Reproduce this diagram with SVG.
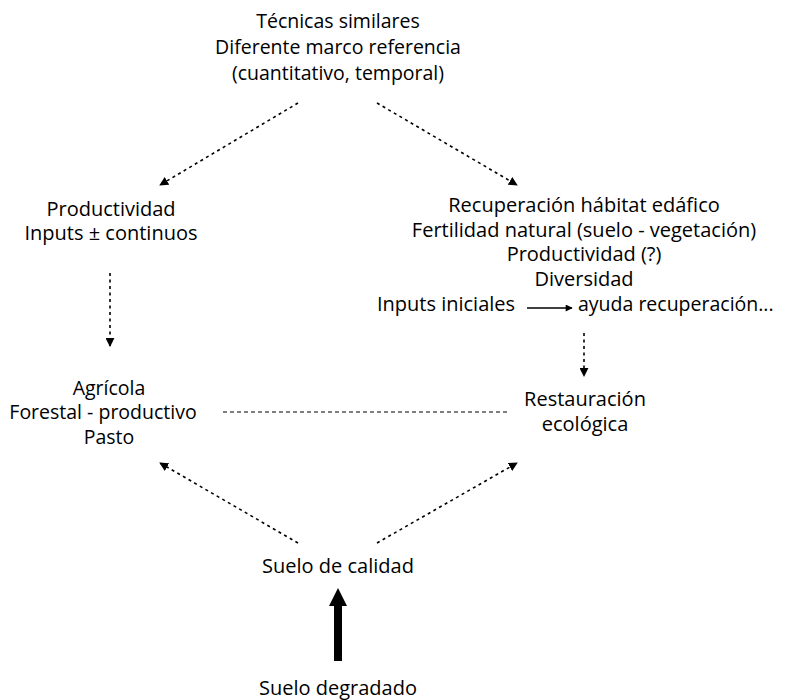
<svg xmlns="http://www.w3.org/2000/svg" width="796" height="700" viewBox="0 0 796 700">
  <style>
    text { font-family: "Open Sans", Lato, "Liberation Sans", sans-serif; font-size: 20px; fill: #000; text-anchor: middle; }
    .top { font-size: 19.5px; }
    .small { font-size: 19.5px; }
    .start { text-anchor: start; font-size: 19.5px; }
    .dot { fill: none; stroke: #000; stroke-width: 1.6; stroke-dasharray: 3 3.5; }
    .dash { fill: none; stroke: #000; stroke-width: 1; stroke-dasharray: 4 3; }
    .solid { fill: none; stroke: #000; stroke-width: 1.3; }
  </style>
  <defs>
    <marker id="tri" viewBox="0 0 10 10" refX="9" refY="5" markerWidth="9" markerHeight="9" markerUnits="userSpaceOnUse" orient="auto">
      <path d="M0,0 L10,5 L0,10 Z" fill="#000"/>
    </marker>
    <marker id="tri-s" viewBox="0 0 10 10" refX="9" refY="5" markerWidth="9" markerHeight="7" markerUnits="userSpaceOnUse" orient="auto">
      <path d="M0,0 L10,5 L0,10 Z" fill="#000"/>
    </marker>
  </defs>

  <g id="connectors">
    <line class="dot" x1="298" y1="103" x2="160" y2="185" marker-end="url(#tri)"/>
    <line class="dot" x1="377" y1="103" x2="517" y2="185" marker-end="url(#tri)"/>
    <line class="dot" x1="110" y1="273" x2="110" y2="346" marker-end="url(#tri)"/>
    <line class="dot" x1="584" y1="333" x2="584" y2="376" marker-end="url(#tri)"/>
    <line class="dash" x1="223" y1="412" x2="508" y2="412"/>
    <line class="dot" x1="298" y1="543" x2="160" y2="463" marker-end="url(#tri)"/>
    <line class="dot" x1="377" y1="543" x2="517" y2="463" marker-end="url(#tri)"/>
    <line class="solid" x1="527" y1="308" x2="572" y2="308" marker-end="url(#tri-s)"/>
    <!-- heavy arrow from degraded to quality soil -->
    <rect x="334" y="603" width="8" height="58" fill="#000"/>
    <path d="M338,588 L347,606 L329,606 Z" fill="#000"/>
  </g>

  <g id="node-tecnicas">
    <text class="top" x="338" y="28">Técnicas similares</text>
    <text class="top" x="338" y="54">Diferente marco referencia</text>
    <text class="top" x="338" y="80">(cuantitativo, temporal)</text>
  </g>

  <g id="node-productividad">
    <text x="111" y="216">Productividad</text>
    <text x="111" y="240">Inputs ± continuos</text>
  </g>

  <g id="node-recuperacion">
    <text x="584" y="212">Recuperación hábitat edáfico</text>
    <text x="584" y="237">Fertilidad natural (suelo - vegetación)</text>
    <text x="584" y="261">Productividad (?)</text>
    <text x="584" y="286">Diversidad</text>
    <text x="446" y="311">Inputs iniciales</text>
    <text class="start" x="578" y="311">ayuda recuperación...</text>
  </g>

  <g id="node-agricola">
    <text class="small" x="109" y="395">Agrícola</text>
    <text class="small" x="103" y="419">Forestal - productivo</text>
    <text class="small" x="109" y="444">Pasto</text>
  </g>

  <g id="node-restauracion">
    <text x="585" y="406">Restauración</text>
    <text x="585" y="431">ecológica</text>
  </g>

  <g id="node-calidad">
    <text x="338" y="573">Suelo de calidad</text>
  </g>

  <g id="node-degradado">
    <text x="338" y="695">Suelo degradado</text>
  </g>
</svg>
